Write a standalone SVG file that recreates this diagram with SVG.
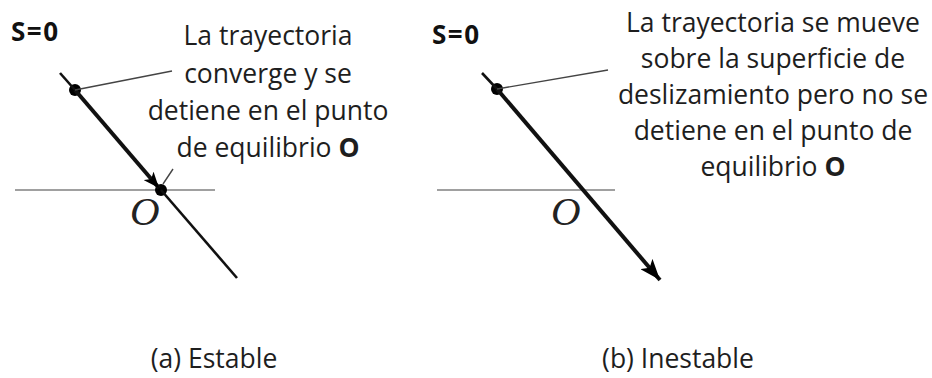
<svg xmlns="http://www.w3.org/2000/svg" width="932" height="378" viewBox="0 0 932 378">
<style>
  .txt { font-family: "Open Sans", "Noto Sans", "DejaVu Sans", sans-serif; font-size: 26.5px; fill: #1e1e1e; text-anchor: middle; }
  .cap { font-family: "Open Sans", "Noto Sans", "DejaVu Sans", sans-serif; font-size: 26.5px; fill: #1e1e1e; text-anchor: middle; }
  .s0 { font-family: "Open Sans", "Noto Sans", "DejaVu Sans", sans-serif; font-size: 26px; font-weight: bold; fill: #111; letter-spacing: 1.5px; }
  .o { font-family: "Liberation Serif", "DejaVu Serif", serif; font-style: italic; font-size: 41px; fill: #222; }
  .axis { stroke: #808080; stroke-width: 1.6; fill: none; }
  .leader { stroke: #444; stroke-width: 1.4; fill: none; }
  .thin { stroke: #111; stroke-width: 2.6; fill: none; }
  .thick { stroke: #111; stroke-width: 4; fill: none; }
  .dot { fill: #000; }
</style>
<defs>
  <marker id="arrS" viewBox="0 0 16 13" refX="16" refY="6.5" markerWidth="16" markerHeight="13" markerUnits="userSpaceOnUse" orient="auto">
    <path d="M0,0 L16,6.5 L0,13 L4,6.5 z" fill="#000"/>
  </marker>
  <marker id="arrL" viewBox="0 0 21 16" refX="21" refY="8" markerWidth="21" markerHeight="16" markerUnits="userSpaceOnUse" orient="auto">
    <path d="M0,0 L21,8 L0,16 L5,8 z" fill="#000"/>
  </marker>
</defs>

<g id="panel-a">
  <g id="axis-a"><line class="axis" x1="15" y1="190" x2="215" y2="190"/></g>
  <g id="label-s0-a"><text class="s0" x="11" y="41">S=0</text></g>
  <g id="label-o-a"><text class="o" x="130" y="225">O</text></g>
  <g id="dot-start-a"><circle class="dot" cx="75" cy="90" r="6"/></g>
  <g id="dot-o-a"><circle class="dot" cx="161" cy="190" r="6"/></g>
  <g id="note-a">
    <text class="txt" x="268" y="45">La trayectoria</text>
    <text class="txt" x="268" y="83">converge y se</text>
    <text class="txt" x="268" y="120">detiene en el punto</text>
    <text class="txt" x="268" y="157">de equilibrio <tspan font-weight="bold">O</tspan></text>
  </g>
  <g id="caption-a"><text class="cap" x="214" y="368">(a) Estable</text></g>
</g>

<g id="panel-b">
  <g id="axis-b"><line class="axis" x1="437" y1="190" x2="615" y2="190"/></g>
  <g id="label-s0-b"><text class="s0" x="432" y="44">S=0</text></g>
  <g id="label-o-b"><text class="o" x="551" y="225">O</text></g>
  <g id="dot-start-b"><circle class="dot" cx="497" cy="89" r="6"/></g>
  <g id="note-b">
    <text class="txt" x="773" y="32">La trayectoria se mueve</text>
    <text class="txt" x="773" y="68">sobre la superficie de</text>
    <text class="txt" x="773" y="104">deslizamiento pero no se</text>
    <text class="txt" x="773" y="140">detiene en el punto de</text>
    <text class="txt" x="773" y="176">equilibrio <tspan font-weight="bold">O</tspan></text>
  </g>
  <g id="caption-b"><text class="cap" x="678" y="368">(b) Inestable</text></g>
</g>

<g id="connectors">
  <line class="thin" x1="60" y1="73" x2="75" y2="90"/>
  <line class="thick" x1="75" y1="90" x2="159" y2="188" marker-end="url(#arrS)"/>
  <line class="thin" x1="161" y1="190" x2="237" y2="278"/>
  <line class="leader" x1="75" y1="90" x2="172" y2="71"/>
  <line class="leader" x1="163" y1="184" x2="173" y2="169"/>

  <line class="thin" x1="482" y1="73" x2="497" y2="89"/>
  <line class="thick" x1="497" y1="89" x2="660" y2="280" marker-end="url(#arrL)"/>
  <line class="leader" x1="497" y1="89" x2="608" y2="70"/>
</g>
</svg>
